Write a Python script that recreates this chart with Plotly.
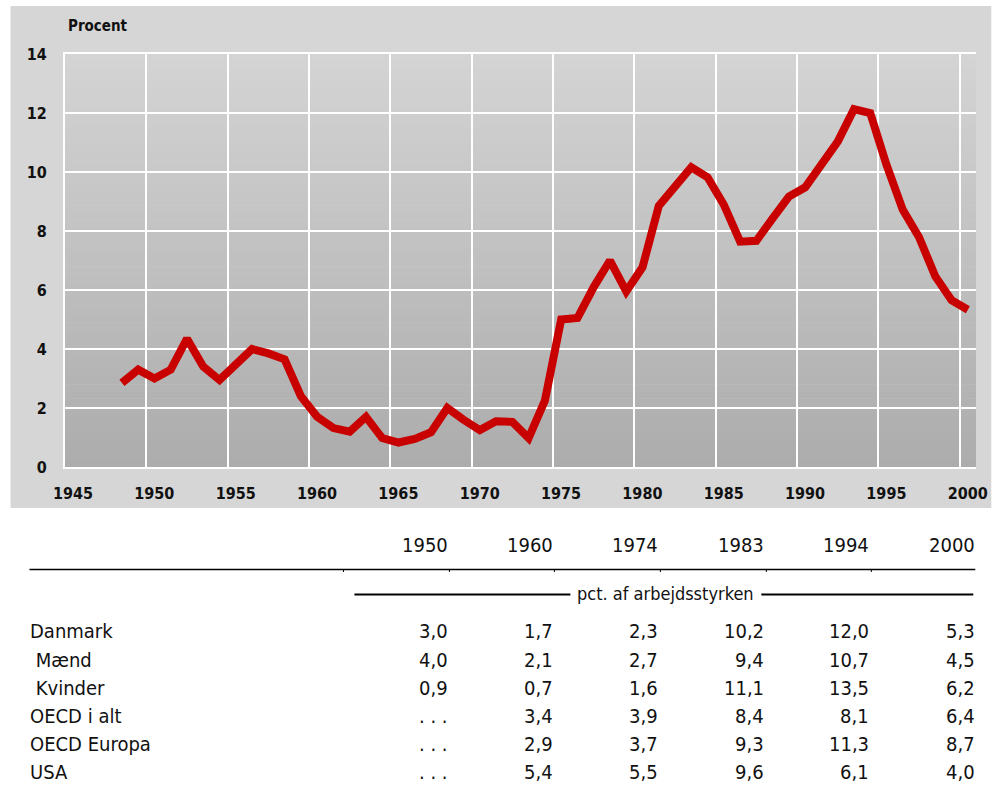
import plotly.graph_objects as go

# ---------------- data ----------------
years = list(range(1948, 2001))
ledighed = [2.85, 3.3, 3.0, 3.3, 4.35, 3.4, 2.95, 3.5, 4.0, 3.85, 3.65, 2.4, 1.7,
            1.32, 1.2, 1.7, 0.98, 0.83, 0.95, 1.18, 2.0, 1.6, 1.25, 1.55, 1.53,
            0.98, 2.25, 5.0, 5.05, 6.1, 7.0, 5.95, 6.77, 8.85, 9.48, 10.16, 9.82,
            8.89, 7.64, 7.67, 8.43, 9.17, 9.48, 10.27, 11.03, 12.13, 12.0, 10.24,
            8.72, 7.79, 6.46, 5.65, 5.33]

x_ticks = [1945, 1950, 1955, 1960, 1965, 1970, 1975, 1980, 1985, 1990, 1995, 2000]
y_ticks = [0, 2, 4, 6, 8, 10, 12, 14]

table_years = ["1950", "1960", "1974", "1983", "1994", "2000"]
table_unit = "pct. af arbejdsstyrken"
row_labels = ["Danmark", " Mænd", " Kvinder", "OECD i alt", "OECD Europa", "USA"]
row_danmark = ["3,0", "1,7", "2,3", "10,2", "12,0", "5,3"]
row_maend = ["4,0", "2,1", "2,7", "9,4", "10,7", "4,5"]
row_kvinder = ["0,9", "0,7", "1,6", "11,1", "13,5", "6,2"]
row_oecd = [". . .", "3,4", "3,9", "8,4", "8,1", "6,4"]
row_oecd_eu = [". . .", "2,9", "3,7", "9,3", "11,3", "8,7"]
row_usa = [". . .", "5,4", "5,5", "9,6", "6,1", "4,0"]
table_rows = [row_danmark, row_maend, row_kvinder, row_oecd, row_oecd_eu, row_usa]

# ---------------- layout geometry (pixels) ----------------
W, H = 999, 791
PL, PR, PT, PB = 64.5, 975.7, 54, 467     # plot area in pixels
FONT = "DejaVu Sans Condensed, Liberation Sans Narrow, sans-serif"


def px(xp):
    return (xp - PL) / (PR - PL)


def py(yp):
    return (PB - yp) / (PB - PT)


fig = go.Figure()
fig.add_trace(go.Scatter(
    x=[y + 0.5 for y in years], y=ledighed, mode="lines",
    line=dict(color="#c80000", width=8, shape="linear"),
    hoverinfo="skip", showlegend=False,
))

shapes = []
# grey panel behind chart
shapes.append(dict(type="rect", xref="paper", yref="paper",
                   x0=px(10), x1=px(991), y0=py(508), y1=py(6),
                   fillcolor="#d6d6d6", line=dict(width=0), layer="below"))
# gradient inside plot area
n = 60
top_c, bot_c = (212, 212, 212), (172, 172, 172)
for i in range(n):
    t = (i + 0.5) / n
    c = tuple(int(round(top_c[k] + (bot_c[k] - top_c[k]) * t)) for k in range(3))
    shapes.append(dict(type="rect", xref="paper", yref="paper",
                       x0=0, x1=1, y0=1 - (i + 1) / n - 0.001, y1=1 - i / n,
                       fillcolor="rgb(%d,%d,%d)" % c, line=dict(width=0), layer="below"))

# table lines
shapes.append(dict(type="line", xref="paper", yref="paper",
                   x0=px(29), x1=px(975), y0=py(569.5), y1=py(569.5),
                   line=dict(color="black", width=1.5)))
for tx in [343, 449, 554, 660, 766, 871]:
    shapes.append(dict(type="line", xref="paper", yref="paper",
                       x0=px(tx), x1=px(tx), y0=py(569.5), y1=py(572),
                       line=dict(color="black", width=1)))
shapes.append(dict(type="line", xref="paper", yref="paper",
                   x0=px(354), x1=px(570), y0=py(594.5), y1=py(594.5),
                   line=dict(color="black", width=2)))
shapes.append(dict(type="line", xref="paper", yref="paper",
                   x0=px(761), x1=px(973), y0=py(594.5), y1=py(594.5),
                   line=dict(color="black", width=2)))

annotations = []
annotations.append(dict(text="<b>Procent</b>", xref="paper", yref="paper",
                        x=px(66), y=py(26), xanchor="left", yanchor="middle",
                        showarrow=False, font=dict(family=FONT, size=15, color="#111")))

col_right = [446, 551, 656, 762, 867, 973]
SH = 4   # compensate annotation padding
for xr, yr in zip(col_right, table_years):
    annotations.append(dict(text=yr, xref="paper", yref="paper", x=px(xr + SH), y=py(544.5),
                            xanchor="right", yanchor="middle", showarrow=False,
                            font=dict(family=FONT, size=20, color="#111")))
annotations.append(dict(text=table_unit, xref="paper", yref="paper", x=px(665), y=py(593),
                        xanchor="center", yanchor="middle", showarrow=False,
                        font=dict(family=FONT, size=18, color="#111")))

row_y = [630.5, 659.5, 688, 716, 744, 772]
for lbl, vals, ry in zip(row_labels, table_rows, row_y):
    annotations.append(dict(text=lbl.replace(" ", "&nbsp;"), xref="paper", yref="paper",
                            x=px(27), y=py(ry), xanchor="left", yanchor="middle",
                            showarrow=False, font=dict(family=FONT, size=20, color="#111")))
    for xr, v in zip(col_right, vals):
        annotations.append(dict(text=v, xref="paper", yref="paper", x=px(xr + SH), y=py(ry),
                                xanchor="right", yanchor="middle", showarrow=False,
                                font=dict(family=FONT, size=20, color="#111")))

fig.update_layout(
    width=W, height=H,
    margin=dict(l=PL, r=W - PR, t=PT, b=H - PB, pad=0),
    paper_bgcolor="white", plot_bgcolor="rgba(0,0,0,0)",
    showlegend=False,
    shapes=shapes, annotations=annotations,
    xaxis=dict(range=[1945, 2001], tickvals=x_ticks, ticktext=[str(v) for v in x_ticks],
               showgrid=True, gridcolor="white", gridwidth=2,
               showline=True, linecolor="white", linewidth=2, mirror=True,
               zeroline=False, ticks="", ticklabelstandoff=11, ticklabelshift=8,
               tickfont=dict(family=FONT, size=16, color="#111", weight="bold"),
               fixedrange=True),
    yaxis=dict(range=[0, 14], tickvals=y_ticks,
               showgrid=True, gridcolor="white", gridwidth=2,
               showline=True, linecolor="white", linewidth=2,
               zeroline=False, ticks="", ticklabelstandoff=13,
               tickfont=dict(family=FONT, size=16, color="#111", weight="bold"),
               fixedrange=True),
)

fig.write_html("out.html", config={"displayModeBar": False, "staticPlot": True},
               post_script="document.body.style.margin='0';document.body.style.overflow='hidden';")
